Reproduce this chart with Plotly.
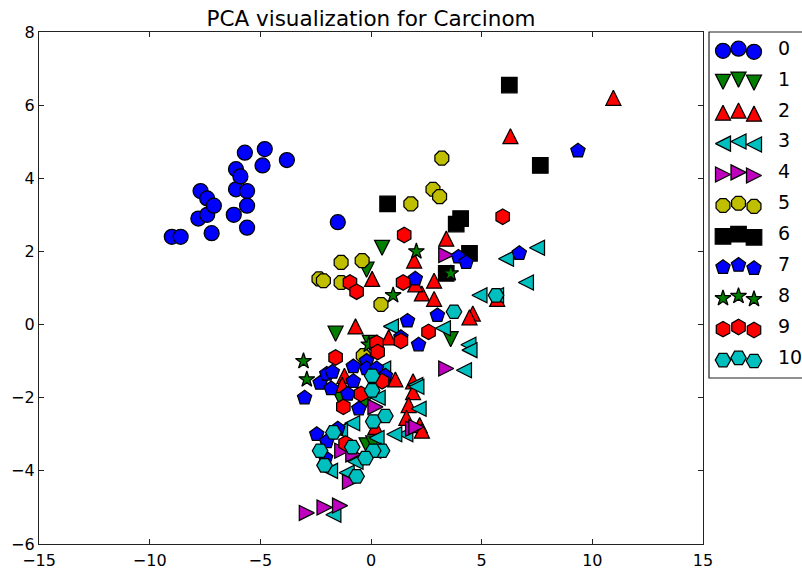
import plotly.graph_objects as go

W, H = 802, 569
x0 = [-9.0,-8.6,-7.8,-7.4,-7.7,-7.4,-7.1,-7.2,-6.2,-6.1,-6.1,-5.9,-5.7,-5.6,-5.6,-5.6,-4.8,-4.9,-3.8,-1.5]
y0 = [2.4,2.4,2.9,3.0,3.65,3.45,3.25,2.5,3.0,3.7,4.25,4.05,4.7,3.65,3.25,2.65,4.8,4.35,4.5,2.8]
x1 = [0.5,-0.2,-1.6,3.6,-1.4,-0.3,-0.2,0.1,-0.05]
y1 = [2.1,1.5,-0.25,-0.4,-2.0,-2.15,-3.3,-3.25,-0.5]
x2 = [10.95,6.3,3.4,1.95,0.05,2.85,2.3,2.85,4.6,4.45,-0.7,0.8,2.0,5.7,-1.2,-1.3,1.1,1.9,1.9,1.7,1.6,2.2,0.2,2.3,0.2]
y2 = [6.2,5.15,2.35,1.75,1.25,1.2,0.85,0.7,0.3,0.2,-0.05,-0.35,1.1,0.7,-1.4,-1.65,-1.5,-1.55,-1.85,-2.2,-2.55,-2.75,-2.8,-2.9,-1.5]
x3 = [7.5,7.0,6.1,4.9,5.65,3.25,0.9,4.4,4.45,4.2,2.0,2.15,1.55,1.05,-0.85,0.25,-1.85,-1.1,-0.7,-1.7,2.05,0.3,0.55,-1.4,0.1]
y3 = [2.1,1.15,1.8,0.8,0.8,-0.1,-0.05,-0.55,-0.7,-1.25,-1.65,-2.3,-3.0,-3.0,-2.7,-3.1,-4.0,-4.05,-3.75,-5.2,-1.7,-2.0,-1.2,-2.9,-3.45]
x4 = [3.4,3.4,0.2,1.9,2.05,-1.3,-0.8,-0.95,-2.9,-2.1,-1.4]
y4 = [1.9,-1.2,-2.25,-2.85,-2.8,-3.45,-3.55,-4.3,-5.15,-5.0,-4.95]
x5 = [3.2,2.8,3.1,1.8,-1.35,-0.4,-2.35,-2.15,-1.35,0.45,-0.35]
y5 = [4.55,3.7,3.5,3.3,1.7,1.75,1.25,1.2,1.15,0.55,-0.85]
x6 = [6.25,7.65,0.75,3.85,4.05,4.45,3.4]
y6 = [6.55,4.35,3.3,2.75,2.9,1.95,1.4]
x7 = [9.35,6.7,3.95,4.3,2.0,3.0,1.65,2.15,1.35,-3.0,-2.3,-2.0,-1.75,-1.8,-1.05,-0.8,-0.8,-0.2,-0.2,0.25,0.65,-0.55,-2.45,-2.0,-1.5,-2.05]
y7 = [4.75,1.95,1.85,1.7,1.25,0.25,0.1,-0.55,-0.35,-2.0,-1.6,-1.35,-1.3,-1.75,-1.9,-1.55,-1.15,-1.0,-1.2,-1.2,-1.4,-2.3,-3.0,-3.2,-2.85,-3.65]
x8 = [2.05,3.6,1.0,-3.05,-2.9,-0.1]
y8 = [2.0,1.4,0.8,-1.0,-1.5,-0.55]
x9 = [5.95,1.5,-0.95,-0.65,1.45,2.6,0.25,1.35,0.3,-1.6,0.5,-0.45,-1.25,-1.15]
y9 = [2.95,2.45,1.15,0.9,1.15,-0.2,-0.5,-0.45,-0.75,-0.9,-1.55,-1.9,-2.25,-3.25]
x10 = [5.65,3.75,0.05,0.05,0.65,0.1,-1.7,-0.85,0.5,0.1,-0.25,-2.3,-2.1,-0.65]
y10 = [0.8,0.35,-1.4,-1.8,-2.5,-2.65,-2.95,-3.35,-3.45,-3.45,-3.65,-3.45,-3.85,-4.15]

labels = ["0","1","2","3","4","5","6","7","8","9","10"]
xs = [x0,x1,x2,x3,x4,x5,x6,x7,x8,x9,x10]
ys = [y0,y1,y2,y3,y4,y5,y6,y7,y8,y9,y10]
symbols = ["circle","triangle-down","triangle-up","triangle-left","triangle-right","octagon","square","pentagon","star","hexagon","hexagon2"]
colors = ["#0000ff","#007f00","#ff0000","#00bfbf","#bf00bf","#bfbf00","#000000","#0000ff","#007f00","#ff0000","#00bfbf"]
sizes = [15,13,13,13,13,15,15.5,15,12,15.5,15.5]
legend_key_x = [14,29.5,45]
legend_key_dy = [0.03,-0.04,0.06]

FONT = "DejaVu Sans"
LW = 1.25
fig = go.Figure()
for x,y,l,s,c,z in zip(xs,ys,labels,symbols,colors,sizes):
    fig.add_trace(go.Scatter(x=x,y=y,mode="markers",name=l,showlegend=False,
        marker=dict(symbol=s,color=c,size=z,line=dict(color="#000000",width=LW)),
        xaxis="x",yaxis="y"))
for i,(l,s,c,z) in enumerate(zip(labels,symbols,colors,sizes)):
    fig.add_trace(go.Scatter(x=legend_key_x,y=[i+d for d in legend_key_dy],mode="markers",showlegend=False,
        hoverinfo="skip",marker=dict(symbol=s,color=c,size=z,line=dict(color="#000000",width=LW)),
        xaxis="x2",yaxis="y2"))
fig.add_trace(go.Scatter(x=[69]*len(labels),y=list(range(len(labels))),mode="text",text=labels,
    textposition="middle right",textfont=dict(family=FONT,size=19,color="#000000"),
    showlegend=False,hoverinfo="skip",cliponaxis=False,xaxis="x2",yaxis="y2"))

axis = dict(showgrid=False,zeroline=False,showline=True,linecolor="#222222",linewidth=1.2,mirror="ticks",
    ticks="inside",ticklen=5,tickwidth=1,tickcolor="#222222",automargin=False,
    tickfont=dict(family=FONT,size=16,color="#000000"))
fig.update_layout(width=W,height=H,margin=dict(l=0,r=0,t=0,b=0),autosize=False,
    paper_bgcolor="#ffffff",plot_bgcolor="#ffffff",showlegend=False,
    title=dict(text="PCA visualization for Carcinom",x=371/W,xanchor="center",y=1-18/H,yanchor="middle",
               font=dict(family=FONT,size=21.5,color="#000000")),
    xaxis=dict(axis,domain=[39/W,703/W],range=[-15,15],tickmode="array",tickvals=[-15,-10,-5,0,5,10,15],
               ticktext=["−15","−10","−5","0","5","10","15"],ticklabelstandoff=2),
    yaxis=dict(axis,domain=[25/H,537/H],range=[-6,8],tickmode="array",tickvals=[-6,-4,-2,0,2,4,6,8],
               ticktext=["−6","−4","−2","0","2","4","6","8"]),
    xaxis2=dict(domain=[709/W,1],range=[0,93],visible=False,anchor="y2",automargin=False),
    yaxis2=dict(domain=[191/H,537/H],range=[10.61,-0.58],visible=False,anchor="x2",automargin=False),
    shapes=[dict(type="rect",xref="paper",yref="paper",x0=709/W,x1=1.02,y0=191/H,y1=537/H,
                 line=dict(color="#222222",width=1.2),fillcolor="rgba(0,0,0,0)")])

# Plotly's triangles are squat; stretch them to the equal width/height the reference uses.
POST = """
document.body.style.margin='0';
function reshape(){
  document.querySelectorAll('.scatterlayer .trace').forEach(function(t){
    var d=t.__data__; if(!d||!d[0]||!d[0].trace.marker) return;
    var sym=d[0].trace.marker.symbol; var m={'triangle-up':[0,2.5,1,1.54],'triangle-down':[0,-2.5,1,1.54],
      'triangle-left':[2.5,0,1.54,1],'triangle-right':[-2.5,0,1.54,1]}[sym];
    if(!m) return;
    t.querySelectorAll('path.point').forEach(function(p){
      var tr=(p.getAttribute('transform')||'').split(' scale')[0].split(' translate')[0];
      p.setAttribute('transform',tr+' translate('+m[0]+','+m[1]+') scale('+m[2]+','+m[3]+')');
      p.style.vectorEffect='non-scaling-stroke';
    });
  });
}
reshape();
var gd=document.getElementById('{plot_id}');
if(gd&&gd.on){gd.on('plotly_afterplot',reshape);}
"""
fig.write_html("out.html",config=dict(displayModeBar=False),post_script=POST)
